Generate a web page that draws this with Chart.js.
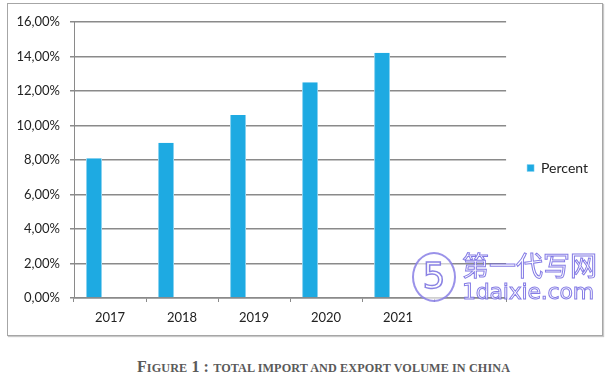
<!DOCTYPE html>
<html>
<head>
<meta charset="utf-8">
<script src="https://cdn.jsdelivr.net/npm/chart.js@4/dist/chart.umd.min.js"></script>
<style>
  html, body { margin: 0; padding: 0; background: #fff; width: 611px; height: 378px; overflow: hidden; }
  #frame { position: absolute; left: 7px; top: 3px; width: 596px; height: 333px; box-sizing: border-box;
           border: 1px solid #a6a6a6; box-shadow: 1px 1px 1px #c8c8c8; }
  #frame canvas { position: absolute; left: 0; top: 0; }
  #caption { position: absolute; left: 0; width: 647px; top: 358px; text-align: center;
             font-family: "Liberation Serif", serif; font-weight: bold; color: #5a5a5a; font-size: 16px; letter-spacing: 0.1px; }
  #caption .sc { font-size: 12.2px; }
  #wm { position: absolute; left: 410px; top: 250px; width: 198px; height: 56px; pointer-events: none; }
  #wm .logo { position: absolute; left: 2px; top: 2px; width: 40px; height: 46px; border: 2px solid rgba(120,110,225,0.75);
              border-radius: 50%; font-family: "DejaVu Sans", sans-serif; font-size: 36px; line-height: 44px; text-align: center;
              color: rgba(255,255,255,0.9); -webkit-text-stroke: 1.5px rgba(110,100,220,0.8); background: rgba(255,255,255,0.6); }
  #wm .cn { position: absolute; left: 52px; top: 0px; font-family: "Noto Sans CJK SC", sans-serif; font-size: 27px; line-height: 30px;
            color: rgba(255,255,255,0.85); -webkit-text-stroke: 1px rgba(110,100,225,0.85); }
  #wm .en { position: absolute; left: 52px; top: 30px; font-family: "DejaVu Sans", sans-serif; font-size: 22px; line-height: 24px;
            color: rgba(255,255,255,0.85); -webkit-text-stroke: 1px rgba(110,100,225,0.85); letter-spacing: -0.2px; }
</style>
</head>
<body>
<div id="frame"><canvas id="c" width="594" height="331"></canvas></div>
<div id="caption">F<span class="sc">IGURE</span> 1 : <span class="sc">TOTAL IMPORT AND EXPORT VOLUME IN CHINA</span></div>
<div id="wm"><div class="logo">5</div><div class="cn">第一代写网</div><div class="en">1daixie.com</div></div>
<script>
const categories = ['2017', '2018', '2019', '2020', '2021', ''];
const percentValues = [8.1, 9.0, 10.6, 12.5, 14.2, null];
const emptyValues = [null, null, null, null, null, null];
const seriesName = 'Percent';
const yMax = 16;
const yStep = 2;

const fontFam = 'Lato, "Open Sans", "Liberation Sans", sans-serif';

const legendShift = {
  id: 'legendShift',
  afterLayout(chart) {
    const lg = chart.legend;
    if (!lg) return;
    lg.left += 11; lg.right += 11;
    lg.top -= 8; lg.bottom -= 8;
  }
};

new Chart(document.getElementById('c'), {
  type: 'bar',
  data: {
    labels: categories,
    datasets: [
      { label: seriesName, data: percentValues, backgroundColor: '#1eaae2', borderColor: '#8ad2f0', borderWidth: {left: 1, right: 1, top: 0, bottom: 0},
        categoryPercentage: 0.889, barPercentage: 0.5 },
      { label: '', data: emptyValues, backgroundColor: 'rgba(0,0,0,0)', categoryPercentage: 0.889, barPercentage: 0.5 }
    ]
  },
  plugins: [legendShift],
  options: {
    responsive: false,
    animation: false,
    devicePixelRatio: 1,
    layout: { padding: { top: 13, left: 0, right: 15, bottom: 0 } },
    plugins: {
      tooltip: { enabled: false },
      legend: {
        position: 'right',
        labels: {
          filter: (item) => item.text !== '',
          boxWidth: 7, boxHeight: 7, padding: 10,
          color: '#222', font: { family: fontFam, size: 14 }
        }
      }
    },
    scales: {
      x: {
        grid: { display: true, drawOnChartArea: false, drawTicks: true, tickLength: 4, color: '#8a8a8a', offset: true },
        border: { display: true, color: '#8a8a8a', width: 1.5 },
        ticks: { color: '#222', font: { family: fontFam, size: 13 }, padding: 8, maxRotation: 0 },
        afterFit: (s) => { s.height = 37; }
      },
      y: {
        min: 0, max: yMax,
        grid: { color: '#8a8a8a', lineWidth: 1.5, tickLength: 4, drawTicks: true },
        border: { display: true, color: '#8a8a8a', width: 1 },
        ticks: { stepSize: yStep, color: '#222', font: { family: fontFam, size: 13 }, padding: 10,
                 callback: (v) => v.toFixed(2).replace('.', ',') + '%' },
        afterFit: (s) => { s.width = 66; }
      }
    }
  }
});
</script>
</body>
</html>
